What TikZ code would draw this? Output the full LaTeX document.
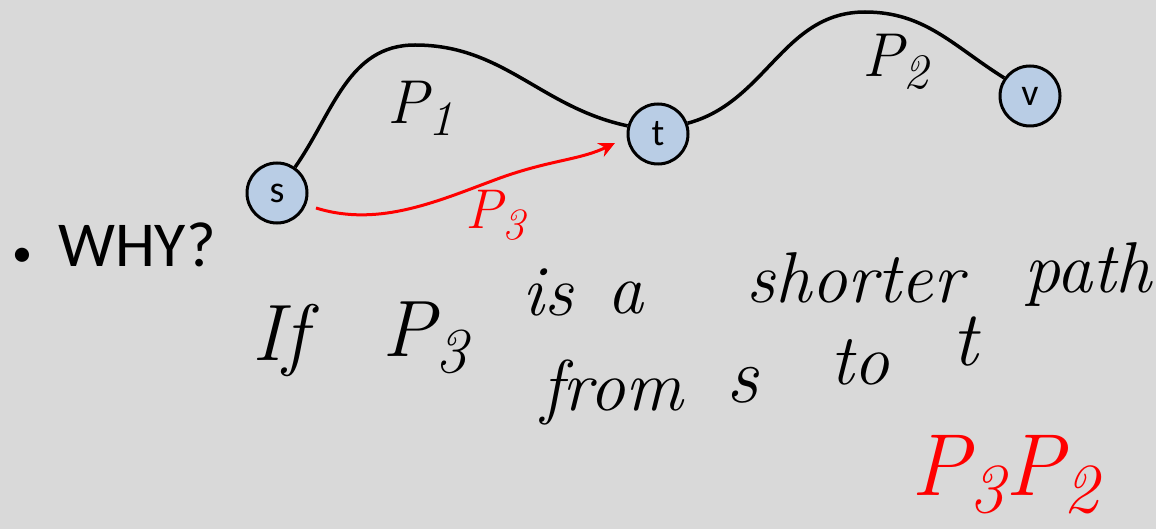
\documentclass[tikz,border=0pt]{standalone}
\usepackage{fontspec}
\setsansfont{Carlito}
\usetikzlibrary{arrows.meta}
\definecolor{bg}{HTML}{D9D9D9}
\definecolor{nodefill}{HTML}{B9CDE5}
\definecolor{redink}{HTML}{FF0000}
\newcommand\hsub[1]{\raisebox{-0.45ex}{\scalebox{0.8}{#1}}}
\begin{document}
\begin{tikzpicture}[x=1pt,y=-1pt,
  vert/.style={circle,draw=black,fill=nodefill,line width=3pt,minimum size=60pt,inner sep=0pt,font=\sffamily\fontsize{38}{38}\selectfont},
  pathline/.style={line width=3.5pt,black},
  hand/.style={font=\itshape\fontsize{#1}{#1}\selectfont,inner sep=0pt},
  redhand/.style={hand=#1,text=redink},
  bullettext/.style={font=\sffamily\fontsize{64}{64}\selectfont,inner sep=0pt,anchor=west}
]
\clip (0,0) rectangle (1156,529);
\fill[bg] (0,0) rectangle (1156,529);

% nodes
\node[vert] (s) at (277,193) {s};
\node[vert] (t) at (658,134) {t};
\node[vert] (v) at (1030,96) {v};

% paths P1 and P2
\draw[pathline] (s.55) to[out=55,in=180] (415,45) to[out=0,in=168] (t.165);
\draw[pathline] (t.20) to[out=15,in=180] (865,12) to[out=0,in=148] (v.145);

% red P3 arrow
\coordinate (p3a) at (316,208);
\coordinate (p3b) at (615,143);
\draw[redink,line width=3pt,-{Stealth[length=16pt,width=15pt]}]
  (p3a) .. controls (380,228) and (440,200) .. (500,178)
        .. controls (550,160) and (580,160) .. (p3b);

% labels on paths
\node[hand=62] (lp1) at (420,108) {P\hsub{1}};
\node[hand=62] (lp2) at (895,62) {P\hsub{2}};
\node[redhand=56] (lp3) at (495,215) {P\hsub{3}};

% bullet
\node[bullettext] (why) at (12,245) {{\fontsize{40}{40}\selectfont\textbullet}\hspace{26pt}WHY?};

% handwriting
\node[hand=80] (w1) at (280,340) {If};
\node[hand=80] (w2) at (425,338) {P\hsub{3}};
\node[hand=72] (w3) at (548,292) {is};
\node[hand=72] (w4) at (625,298) {a};
\node[hand=72] (w5) at (855,278) {shorter};
\node[hand=72,anchor=east] (w6) at (1152,275) {path};
\node[hand=72] (w7) at (612,392) {from};
\node[hand=80] (w8) at (742,385) {s};
\node[hand=72] (w9) at (860,362) {to};
\node[hand=78] (w10) at (965,342) {t};
\node[redhand=88] (w11) at (1005,475) {P\hsub{3}P\hsub{2}};
\end{tikzpicture}
\end{document}
